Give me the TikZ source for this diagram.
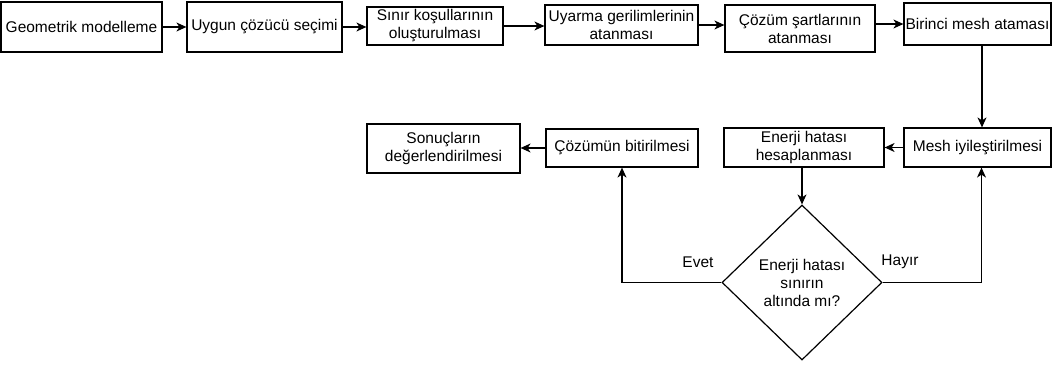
\documentclass[tikz,border=0pt]{standalone}
\usepackage{fontspec}
\setmainfont{Liberation Sans}
\usetikzlibrary{shapes.geometric,arrows.meta,calc}
\begin{document}
\begin{tikzpicture}[x=1pt,y=-1pt,
  font=\fontsize{15.5}{18}\selectfont,
  box/.style={draw=black,line width=1.2pt,rectangle,inner sep=1pt,align=center,text=black},
  dec/.style={draw=black,line width=1.2pt,diamond,aspect=1,inner sep=0pt,align=center,text=black},
  arr/.style={draw=black,line width=1.2pt,-{Stealth[length=10pt,width=9pt,inset=3pt]}},
  lbl/.style={inner sep=0pt,text=black}]
\useasboundingbox (0,0) rectangle (1053,365);
% row 1
\node[box,minimum width=161,minimum height=50] (b1) at (81.5,27) {Geometrik modelleme};
\node[box,minimum width=155,minimum height=50] (b2) at (264.5,27) {Uygun çözücü seçimi};
\node[box,minimum width=136,minimum height=38] (b3) at (435,26) {Sınır koşullarının\\oluşturulması};
\node[box,minimum width=153,minimum height=40] (b4) at (621.5,25) {Uyarma gerilimlerinin\\atanması};
\node[box,minimum width=150,minimum height=47] (b5) at (800,28.5) {Çözüm şartlarının\\atanması};
\node[box,minimum width=147,minimum height=42] (b6) at (977.5,24) {Birinci mesh ataması};
% row 2
\node[box,minimum width=153,minimum height=49] (s) at (443.5,148.5) {Sonuçların\\değerlendirilmesi};
\node[box,minimum width=152,minimum height=38] (c) at (622,148) {Çözümün bitirilmesi};
\node[box,minimum width=160,minimum height=39] (e) at (804,147.5) {Enerji hatası\\hesaplanması};
\node[box,minimum width=147,minimum height=39] (m) at (977.5,147.5) {Mesh iyileştirilmesi};
% decision
\node[dec,minimum width=160,minimum height=155] (d) at (802,282.5) {Enerji hatası\\sınırın\\altında mı?};
\node[lbl] (evet) at (698,262) {Evet};
\node[lbl] (hayir) at (900,262) {Hayır};
% connectors
\draw[arr] (b1.east) -- (b1.east -| b2.west);
\draw[arr] (b2.east) -- (b2.east -| b3.west);
\draw[arr] (b3.east) -- (b3.east -| b4.west);
\draw[arr] (b4.east) -- (b4.east -| b5.west);
\draw[arr] (b6.west -| b5.east) -- (b6.west);
\draw[arr] ([xshift=4.5pt]b6.south) -- ([xshift=4.5pt]b6.south |- m.north);
\draw[arr] (m.west) -- (m.west -| e.east);
\draw[arr] (c.west) -- (c.west -| s.east);
\draw[arr] (d.north |- e.south) -- (d.north);
\draw[arr] (d.west) -| (c.south);
\draw[arr] (d.east) -| ([xshift=4pt]m.south);
\end{tikzpicture}
\end{document}
